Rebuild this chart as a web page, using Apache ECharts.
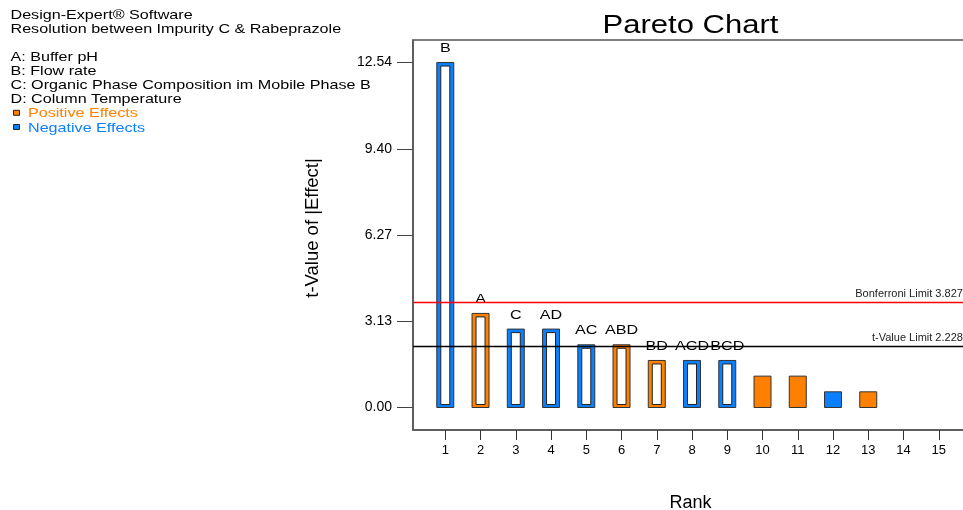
<!DOCTYPE html>
<html>
<head>
<meta charset="utf-8">
<script src="https://cdn.jsdelivr.net/npm/echarts@6/dist/echarts.min.js"></script>
<style>
html,body{margin:0;padding:0;background:#fff;}
#chart{width:963px;height:510px;}
</style>
</head>
<body>
<div id="chart"></div>
<script>
// ---- data ----
var ranks = [1, 2, 3, 4, 5, 6, 7, 8, 9, 10, 11, 12, 13];
var tValues = [12.54, 3.42, 2.85, 2.85, 2.28, 2.28, 1.71, 1.71, 1.71, 1.14, 1.14, 0.57, 0.57];
var effectSigns = ['neg', 'pos', 'neg', 'neg', 'neg', 'pos', 'pos', 'neg', 'neg', 'pos', 'pos', 'neg', 'pos'];
var termLabels = ['B', 'A', 'C', 'AD', 'AC', 'ABD', 'BD', 'ACD', 'BCD', '', '', '', ''];
var xTickValues = [1, 2, 3, 4, 5, 6, 7, 8, 9, 10, 11, 12, 13, 14, 15];
var yTickValues = [0, 3.135, 6.27, 9.405, 12.54];
var yTickLabels = ['0.00', '3.13', '6.27', '9.40', '12.54'];
var limitValues = [3.8273, 2.2281];
var limitNames = ['Bonferroni Limit', 't-Value Limit'];
var headerLines = ['Design-Expert\u00AE Software', 'Resolution between Impurity C & Rabeprazole'];
var factorLines = ['A: Buffer pH', 'B: Flow rate', 'C: Organic Phase Composition im Mobile Phase B', 'D: Column Temperature'];
var legendNames = ['Positive Effects', 'Negative Effects'];

// ---- style ----
var POS = '#FF8000';
var NEG = '#0A80FF';
var FONT = '"Liberation Sans", Arial, sans-serif';
var STRETCH = 1.24;

var chart = echarts.init(document.getElementById('chart'), null, {renderer: 'canvas'});

var graphics = [];
function txt(str, x, y, size, color, align) {
  return {
    type: 'text', x: x, y: y, scaleX: STRETCH, silent: true,
    style: {
      text: str, font: size + 'px ' + FONT, fill: color,
      align: align || 'left', textAlign: align || 'left',
      verticalAlign: 'middle', textVerticalAlign: 'middle'
    }
  };
}
graphics.push(txt(headerLines[0], 10.5, 15.5, 13, '#000'));
graphics.push(txt(headerLines[1], 10.5, 29, 13, '#000'));
factorLines.forEach(function (s, i) {
  graphics.push(txt(s, 10.5, 57 + i * 14.2, 13, '#000'));
});
legendNames.forEach(function (s, i) {
  var y = 57 + (factorLines.length + i) * 14.2;
  graphics.push({
    type: 'rect', silent: true,
    shape: {x: 13.5, y: y - 3.5, width: 6, height: 5},
    style: {fill: i === 0 ? POS : NEG, stroke: '#222', lineWidth: 1}
  });
  graphics.push(txt(s, 28, y, 13, i === 0 ? POS : NEG));
});
graphics.push(txt('Pareto Chart', 690.5, 26, 25, '#000', 'center'));

var barData = ranks.map(function (r, i) { return [r, tValues[i]]; });

var option = {
  animation: false,
  backgroundColor: '#fff',
  textStyle: {fontFamily: FONT},
  graphic: graphics,
  grid: {
    left: 413, top: 40, width: 561, height: 390,
    outerBoundsMode: 'none', containLabel: false,
    show: true, borderColor: '#555', borderWidth: 1.5, backgroundColor: 'transparent'
  },
  xAxis: {
    type: 'value', min: 0.084, max: 16,
    name: 'Rank', nameLocation: 'middle', nameGap: 64,
    nameTextStyle: {fontSize: 18, color: '#000', fontFamily: FONT, padding: [0, 6, 0, 0]},
    axisLine: {show: true, onZero: false, lineStyle: {color: '#555', width: 1.5}},
    axisTick: {show: true, inside: false, length: 10, customValues: xTickValues, lineStyle: {color: '#333', width: 1}},
    axisLabel: {customValues: xTickValues, margin: 14, fontSize: 13, color: '#000', fontFamily: FONT},
    splitLine: {show: false}
  },
  yAxis: {
    type: 'value', min: -0.818, max: 13.36,
    name: 't-Value of |Effect|', nameLocation: 'middle', nameGap: 91,
    nameTextStyle: {fontSize: 18.5, color: '#000', fontFamily: FONT, padding: [0, 0, 0, 14]},
    axisLine: {show: true, onZero: false, lineStyle: {color: '#555', width: 1.5}},
    axisTick: {show: true, inside: false, length: 16, customValues: yTickValues, lineStyle: {color: '#444', width: 1}},
    axisLabel: {
      customValues: yTickValues, margin: 21, fontSize: 14, color: '#000', fontFamily: FONT,
      formatter: function (v) {
        var k = yTickValues.indexOf(v);
        return k >= 0 ? yTickLabels[k] : '';
      }
    },
    splitLine: {show: false}
  },
  series: [
    {
      type: 'custom',
      data: barData,
      encode: {x: 0, y: 1},
      clip: false,
      renderItem: function (params, api) {
        var i = params.dataIndex;
        var r = api.value(0), v = api.value(1);
        var base = api.coord([r, 0]);
        var top = api.coord([r, v]);
        var w = api.size([0.482, 0])[0];
        var x = base[0] - w / 2;
        var h = base[1] - top[1];
        var color = effectSigns[i] === 'pos' ? POS : NEG;
        var children = [{
          type: 'rect',
          shape: {x: x, y: top[1], width: w, height: h},
          style: {fill: color, stroke: '#333', lineWidth: 1}
        }];
        if (termLabels[i]) {
          children.push({
            type: 'rect',
            shape: {x: x + 4, y: top[1] + 3.5, width: w - 8, height: h - 6.5},
            style: {fill: '#fff', stroke: '#222', lineWidth: 1}
          });
          children.push({
            type: 'text', x: base[0], y: top[1] - 14, scaleX: STRETCH,
            style: {
              text: termLabels[i], font: '13px ' + FONT, fill: '#000',
              align: 'center', textAlign: 'center', verticalAlign: 'middle', textVerticalAlign: 'middle'
            }
          });
        }
        return {type: 'group', children: children};
      }
    },
    {
      type: 'line',
      data: [],
      symbol: 'none',
      silent: true,
      markLine: {
        silent: true,
        symbol: ['none', 'none'],
        animation: false,
        data: limitValues.map(function (v, i) {
          return {
            yAxis: v,
            lineStyle: {color: i === 0 ? '#FF0000' : '#000', width: 1.3, type: 'solid'},
            label: {
              show: true, position: 'insideEndTop', distance: [5, 3],
              formatter: limitNames[i] + ' ' + v.toFixed(4),
              fontSize: 11, color: '#222', fontFamily: FONT
            }
          };
        })
      }
    }
  ]
};
chart.setOption(option);
</script>
</body>
</html>
